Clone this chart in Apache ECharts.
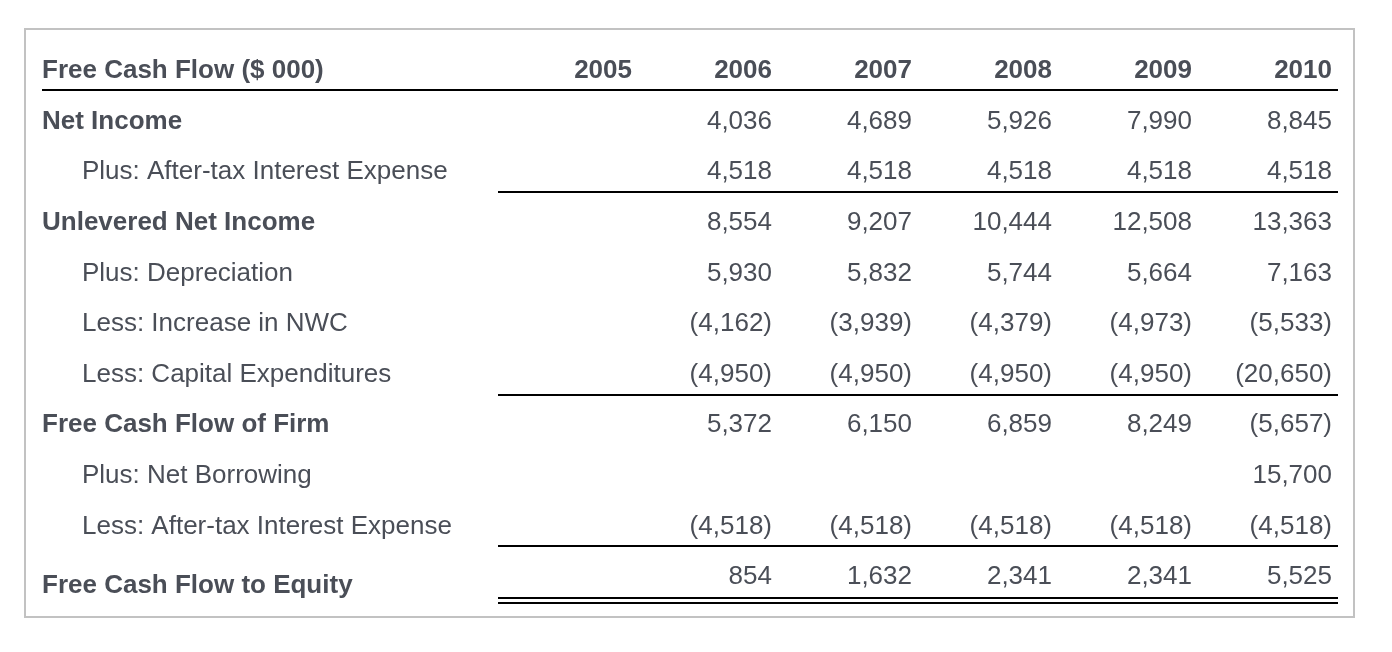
<!DOCTYPE html>
<html>
<head>
<meta charset="utf-8">
<script src="https://cdn.jsdelivr.net/npm/echarts@6/dist/echarts.min.js"></script>
<style>
html,body{margin:0;padding:0;background:#ffffff;}
#chart{width:1392px;height:652px;}
</style>
</head>
<body>
<div id="chart"></div>
<script>
// ---------- data ----------
const tableTitle = 'Free Cash Flow ($ 000)';
const years = ['2005', '2006', '2007', '2008', '2009', '2010'];
const rowLabels = [
  'Net Income',
  'Plus: After-tax Interest Expense',
  'Unlevered Net Income',
  'Plus: Depreciation',
  'Less: Increase in NWC',
  'Less: Capital Expenditures',
  'Free Cash Flow of Firm',
  'Plus: Net Borrowing',
  'Less: After-tax Interest Expense',
  'Free Cash Flow to Equity'
];
const netIncome          = [null, 4036, 4689, 5926, 7990, 8845];
const afterTaxInterest   = [null, 4518, 4518, 4518, 4518, 4518];
const unleveredNetIncome = [null, 8554, 9207, 10444, 12508, 13363];
const depreciation       = [null, 5930, 5832, 5744, 5664, 7163];
const increaseInNWC      = [null, -4162, -3939, -4379, -4973, -5533];
const capitalExpenditures= [null, -4950, -4950, -4950, -4950, -20650];
const fcfOfFirm          = [null, 5372, 6150, 6859, 8249, -5657];
const netBorrowing       = [null, null, null, null, null, 15700];
const lessAfterTaxInterest = [null, -4518, -4518, -4518, -4518, -4518];
const fcfToEquity        = [null, 854, 1632, 2341, 2341, 5525];

const rowValues = [netIncome, afterTaxInterest, unleveredNetIncome, depreciation,
  increaseInNWC, capitalExpenditures, fcfOfFirm, netBorrowing, lessAfterTaxInterest, fcfToEquity];

// ---------- layout / style ----------
const boldRow = [true, false, true, false, false, false, true, false, false, true];
const FONT_FAMILY = '"Liberation Sans", Arial, Helvetica, sans-serif';
const FONT_SIZE = 26;
const TEXT_COLOR = '#4a4e57';
const LABEL_X = 42, INDENT_X = 82;
const RULE_X0 = 498, RULE_X1 = 1338;
const labelYOffset = [0, 0, 0, 0, 0, 0, 0, 0, 0, 0, 9]; // per row (incl. header)
// rules: [rowIndex (0 = header), y offset from row centre, start x]
const rules = [[0, 19, LABEL_X], [2, 20, RULE_X0], [6, 20, RULE_X0], [9, 20, RULE_X0], [10, 21, RULE_X0], [10, 26, RULE_X0]];

const rowKeys = ['header'].concat(rowLabels);

function fmt(v) {
  const s = Math.abs(v).toLocaleString('en-US');
  return v < 0 ? '(' + s + ')' : s;
}
function font(bold) {
  return (bold ? 'bold ' : '') + FONT_SIZE + 'px ' + FONT_FAMILY;
}

// cells
const headerCells = years.map((y, i) => [i, 0, y]);
const valueCells = [];
rowValues.forEach((arr, r) => {
  arr.forEach((v, c) => { if (v !== null) valueCells.push([c, r + 1, v]); });
});
const labelCells = [[0, 0, tableTitle, 1, 0]].concat(
  rowLabels.map((l, r) => [0, r + 1, l, boldRow[r] ? 1 : 0, boldRow[r] ? 0 : 1])
);

const chart = echarts.init(document.getElementById('chart'), null, {renderer: 'canvas'});
chart.setOption({
  backgroundColor: '#ffffff',
  animation: false,
  grid: {left: 632, right: 60, top: 71, bottom: 75},
  xAxis: {type: 'category', data: years, boundaryGap: false, show: false},
  yAxis: {type: 'category', data: rowKeys, boundaryGap: false, inverse: true, show: false},
  graphic: [{
    type: 'rect', left: 24, top: 28, z: -1,
    shape: {x: 0, y: 0, width: 1329, height: 588},
    style: {fill: '#ffffff', stroke: '#c2c2c2', lineWidth: 2}
  }],
  series: [
    {
      type: 'custom', name: 'labels', clip: false, data: labelCells,
      renderItem: function (params, api) {
        const r = api.value(1);
        const p = api.coord([0, r]);
        const bold = api.value(3) === 1;
        const indent = api.value(4) === 1;
        return {
          type: 'text',
          style: {
            x: indent ? INDENT_X : LABEL_X, y: p[1] + labelYOffset[r],
            text: labelCells[params.dataIndex][2],
            fill: TEXT_COLOR, font: font(bold), align: 'left', verticalAlign: 'middle'
          }
        };
      }
    },
    {
      type: 'custom', name: 'years', clip: false, data: headerCells,
      renderItem: function (params, api) {
        const p = api.coord([api.value(0), api.value(1)]);
        return {
          type: 'text',
          style: {x: p[0], y: p[1], text: headerCells[params.dataIndex][2],
            fill: TEXT_COLOR, font: font(true), align: 'right', verticalAlign: 'middle'}
        };
      }
    },
    {
      type: 'custom', name: 'values', clip: false, data: valueCells,
      renderItem: function (params, api) {
        const p = api.coord([api.value(0), api.value(1)]);
        return {
          type: 'text',
          style: {x: p[0], y: p[1], text: fmt(api.value(2)),
            fill: TEXT_COLOR, font: font(false), align: 'right', verticalAlign: 'middle'}
        };
      }
    },
    {
      type: 'custom', name: 'rules', clip: false, data: rules,
      renderItem: function (params, api) {
        const p = api.coord([0, api.value(0)]);
        const y = Math.round(p[1] + api.value(1)) - 1;
        return {
          type: 'rect',
          shape: {x: api.value(2), y: y, width: RULE_X1 - api.value(2), height: 2},
          style: {fill: '#000000'}
        };
      }
    }
  ]
});
</script>
</body>
</html>
